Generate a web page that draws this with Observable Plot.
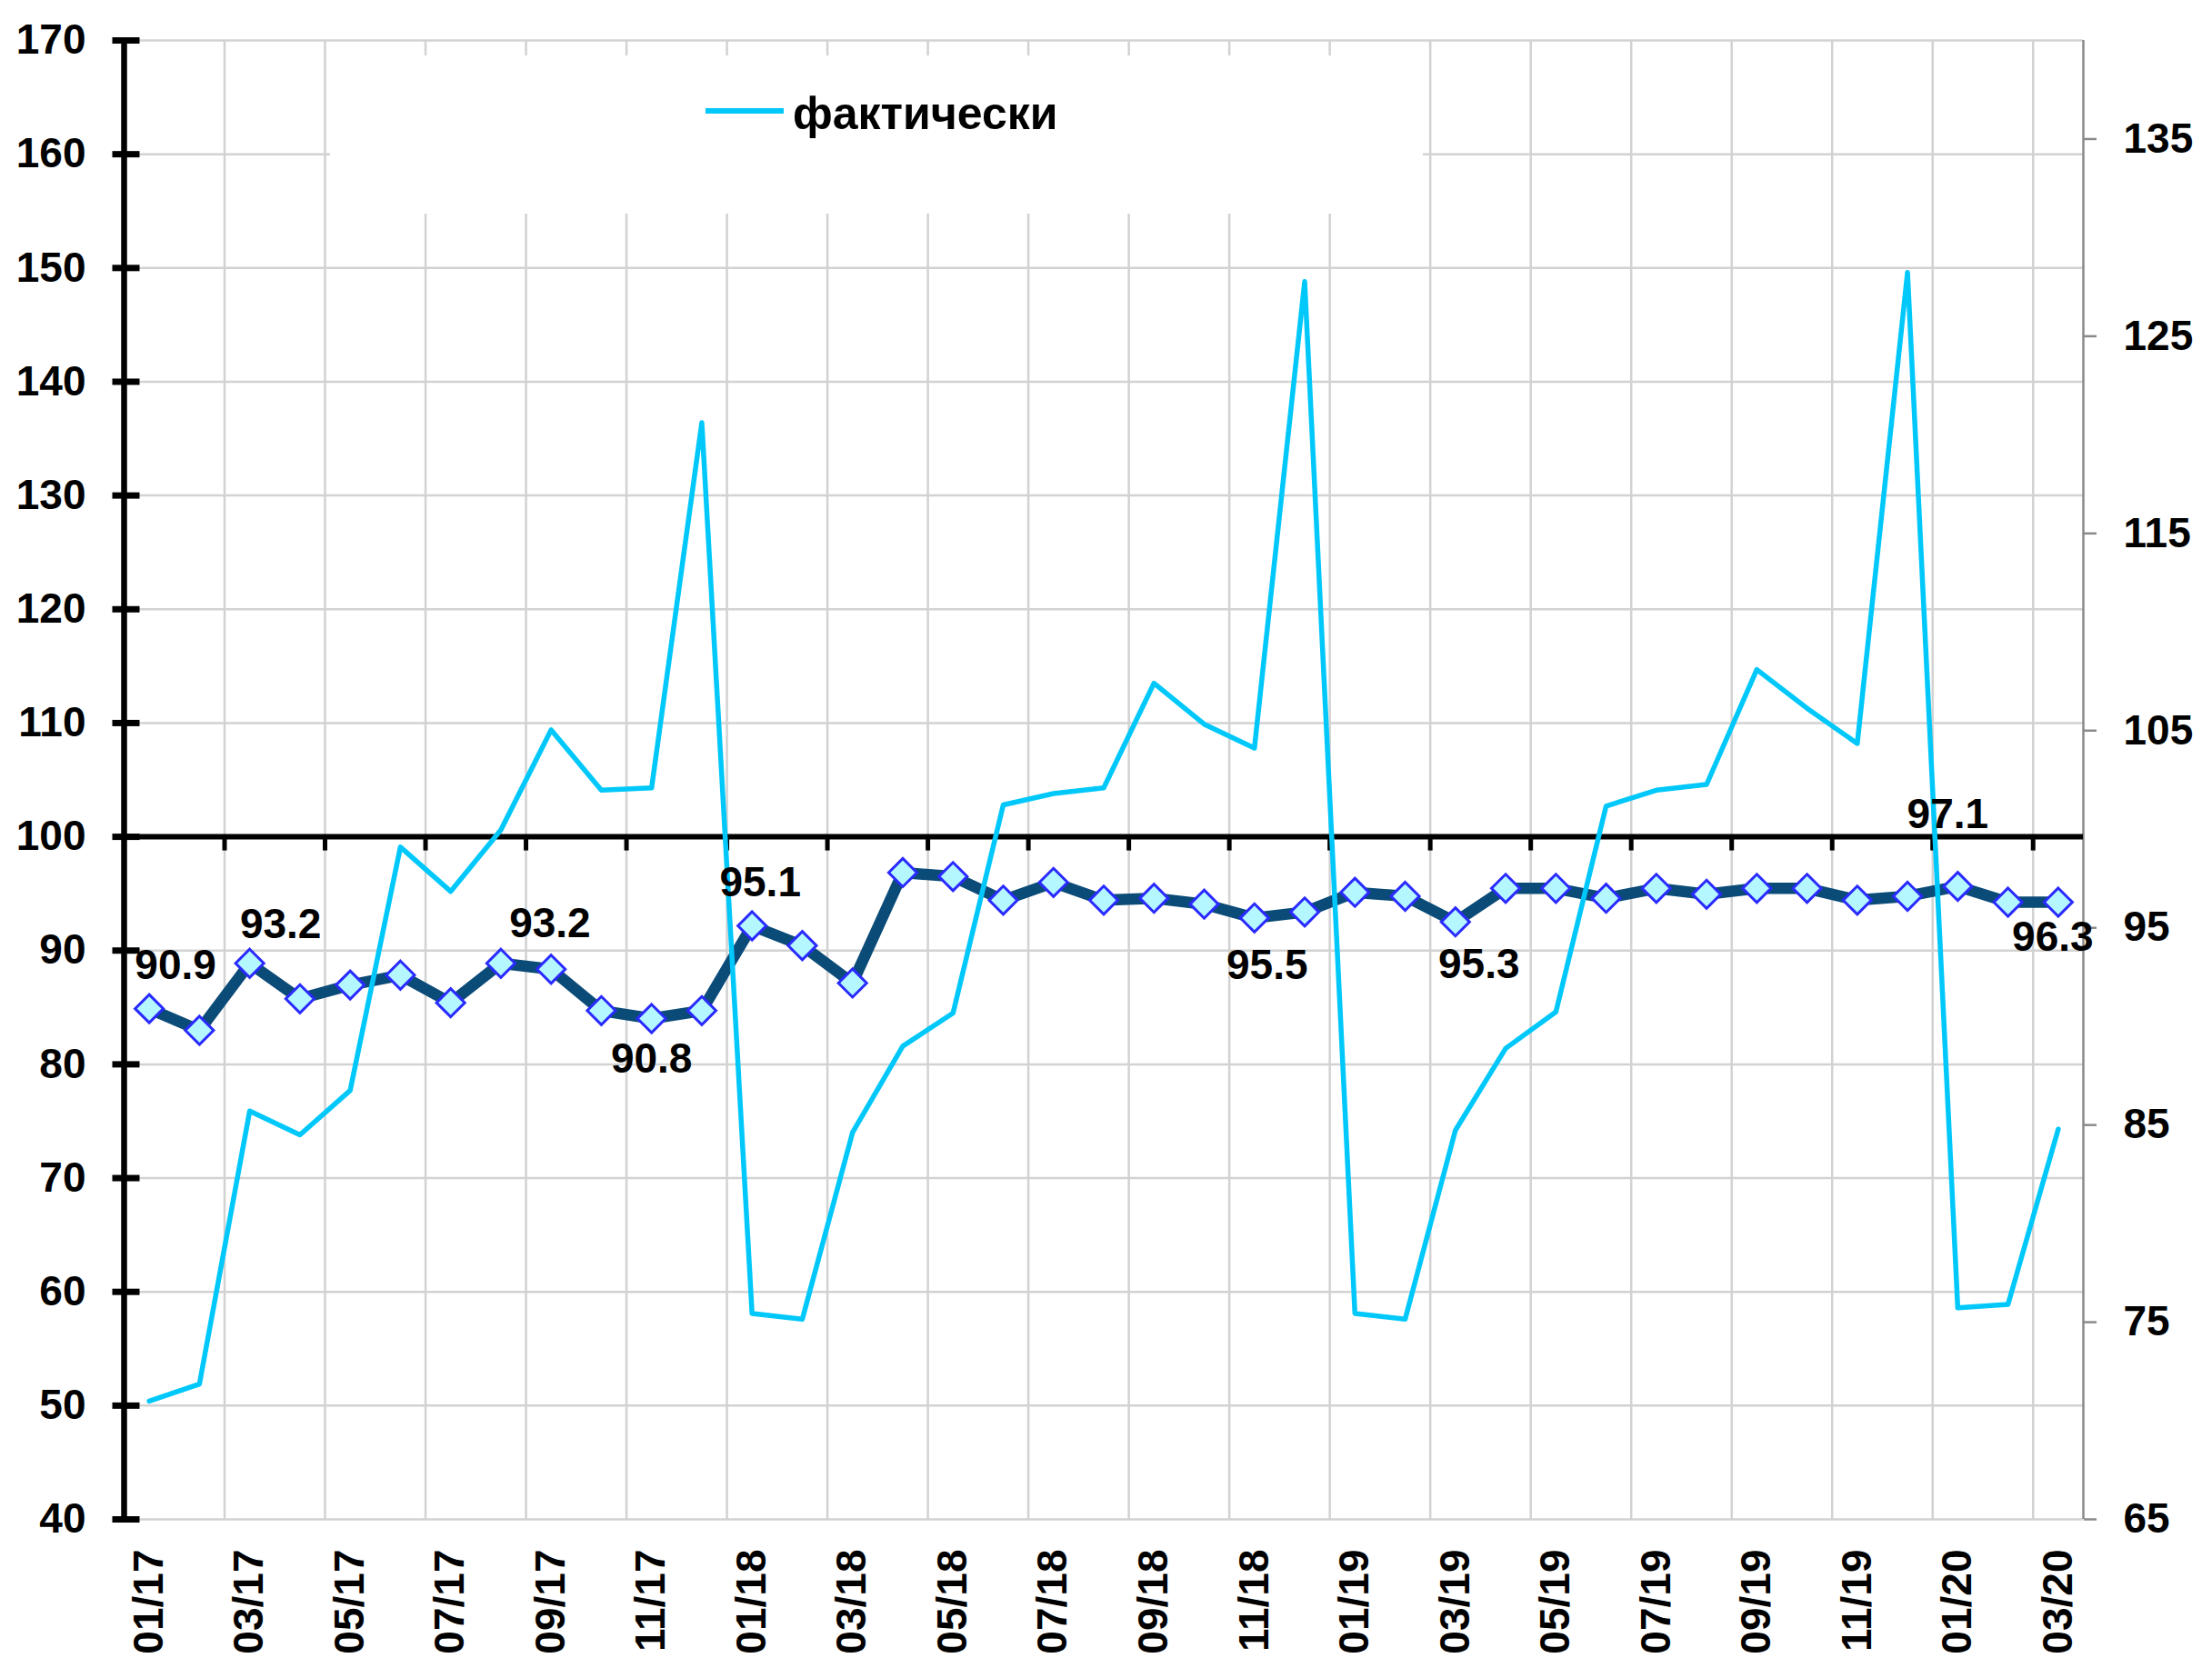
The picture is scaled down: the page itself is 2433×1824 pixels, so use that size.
<!DOCTYPE html>
<html><head><meta charset="utf-8">
<script src="https://cdn.jsdelivr.net/npm/d3@7"></script>
<script src="https://cdn.jsdelivr.net/npm/@observablehq/plot@0.6"></script>
<style>
html,body{margin:0;padding:0;background:#fff;}
#chart{width:2433px;height:1824px;overflow:hidden;}
</style></head><body><div id="chart"></div>
<script>
// ---------- data ----------
const months = ["01/17","02/17","03/17","04/17","05/17","06/17","07/17","08/17","09/17","10/17","11/17","12/17",
                "01/18","02/18","03/18","04/18","05/18","06/18","07/18","08/18","09/18","10/18","11/18","12/18",
                "01/19","02/19","03/19","04/19","05/19","06/19","07/19","08/19","09/19","10/19","11/19","12/19",
                "01/20","02/20","03/20"];
// light-blue series (left axis)
const actual = [50.4, 51.9, 75.9, 73.8, 77.7, 99.1, 95.2, 100.6, 109.4, 104.1, 104.3, 136.4,
                58.1, 57.6, 74.0, 81.6, 84.5, 102.8, 103.8, 104.3, 113.5, 109.9, 107.8, 148.8,
                58.1, 57.6, 74.2, 81.4, 84.6, 102.7, 104.1, 104.6, 114.7, 111.3, 108.2, 149.6,
                58.6, 58.9, 74.3];
// dark series with diamonds (right axis)
const adjusted = [90.9, 89.8, 93.2, 91.4, 92.1, 92.6, 91.2, 93.2, 92.9, 90.8, 90.4, 90.8,
                  95.1, 94.1, 92.2, 97.8, 97.6, 96.4, 97.3, 96.4, 96.5, 96.2, 95.5, 95.8,
                  96.8, 96.6, 95.3, 97.0, 97.0, 96.5, 97.0, 96.7, 97.0, 97.0, 96.4, 96.6,
                  97.1, 96.3, 96.3];
const leftTicks = [40, 50, 60, 70, 80, 90, 100, 110, 120, 130, 140, 150, 160, 170];
const rightTicks = [65, 75, 85, 95, 105, 115, 125, 135];
const labelMonths = ["01/17","03/17","08/17","11/17","01/18","11/18","03/19","01/20","03/20"];
const labelTexts  = ["90.9","93.2","93.2","90.8","95.1","95.5","95.3","97.1","96.3"];
const legendLabel = "фактически";
const refLevel = 100;

// ---------- scales ----------
const L0 = 40, L1 = 170, R0 = 65, R1 = 140;
const toLeft = v => L0 + (v - R0) * (L1 - L0) / (R1 - R0);
const fromLeft = v => R0 + (v - L0) * (R1 - R0) / (L1 - L0);
const xDomain = [-0.5, months.length - 0.5];

const data = months.map((m, i) => ({i, m, actual: actual[i], adj: adjusted[i]}));
const boundaries = d3.range(2, months.length, 2).map(i => i - 0.5);
const labelIdx = d3.range(0, months.length, 2);

// ---------- styles ----------
const CYAN = "#00c8fa", NAVY = "#0b4b78", GRID = "#d2d2d2";
const FONT = "'Liberation Sans', Arial, sans-serif";
const crossTick = {draw(ctx){ ctx.moveTo(-13, 0); ctx.lineTo(17, 0); }};
const downTick = {draw(ctx){ ctx.moveTo(0, 0); ctx.lineTo(0, 15); }};
const labelOffsets = [[29,-47],[34,-42],[54,-43],[0,45],[9,-47],[14,52],[26,47],[-11,-79],[-6,39]];

function legendMark() {
  const g = d3.create("svg:g");
  g.append("rect").attr("x", 363).attr("y", 61).attr("width", 1202).attr("height", 174).attr("fill", "white");
  g.append("line").attr("x1", 776).attr("x2", 862).attr("y1", 122).attr("y2", 122)
    .attr("stroke", CYAN).attr("stroke-width", 6);
  g.append("text").attr("x", 872).attr("y", 124).attr("dy", "0.35em").attr("text-anchor", "start")
    .attr("font-weight", "bold").attr("font-size", 50).attr("font-family", FONT).attr("fill", "black")
    .text(legendLabel);
  return g.node();
}

const labelMarks = labelMonths.map((m, k) => {
  const i = months.indexOf(m);
  return Plot.text([{i, y: toLeft(adjusted[i]), t: labelTexts[k]}], {
    x: "i", y: "y", text: "t", dx: labelOffsets[k][0], dy: labelOffsets[k][1],
    fontSize: 46, fontWeight: "bold", fill: "black", textAnchor: "middle", lineAnchor: "middle"
  });
});

const chart = Plot.plot({
  width: 2433, height: 1824,
  marginLeft: 136, marginRight: 142, marginTop: 44, marginBottom: 153,
  x: {type: "linear", domain: xDomain, label: null},
  y: {domain: [L0, L1], label: null},
  style: {fontFamily: FONT, background: "white", color: "black", overflow: "visible"},
  marks: [
    Plot.ruleY(leftTicks, {stroke: GRID, strokeWidth: 2.5}),
    Plot.ruleX(boundaries, {stroke: GRID, strokeWidth: 2.5}),
    legendMark,
    // right axis
    Plot.ruleX([xDomain[1]], {stroke: "#8a8a8a", strokeWidth: 2.5}),
    Plot.axisY(rightTicks.map(toLeft), {anchor: "right", tickSize: 14, tickPadding: 30,
      tickFormat: d => Math.round(fromLeft(d)), fontSize: 46, fontWeight: "bold",
      stroke: "#8a8a8a", strokeWidth: 2.5, fill: "black", label: null}),
    // reference line at 100 acting as x axis
    Plot.ruleY([refLevel], {stroke: "black", strokeWidth: 6}),
    Plot.dot(boundaries, {x: d => d, y: () => refLevel, symbol: downTick, r: 5, fill: "none",
      stroke: "black", strokeWidth: 5}),
    // left axis
    Plot.ruleX([xDomain[0]], {stroke: "black", strokeWidth: 6.5}),
    Plot.dot(leftTicks, {y: d => d, frameAnchor: "left", symbol: crossTick, r: 5, fill: "none",
      stroke: "black", strokeWidth: 7}),
    Plot.axisY(leftTicks, {anchor: "left", tickSize: 0, tickPadding: 42, fontSize: 46,
      fontWeight: "bold", fill: "black", label: null}),
    // x labels
    Plot.axisX(labelIdx, {anchor: "bottom", tickSize: 0, tickPadding: 33, tickRotate: -90,
      tickFormat: i => months[i], fontSize: 46, fontWeight: "bold", fill: "black", label: null}),
    // series
    Plot.line(data, {x: "i", y: d => toLeft(d.adj), stroke: NAVY, strokeWidth: 12.5, strokeLinejoin: "round"}),
    Plot.line(data, {x: "i", y: "actual", stroke: CYAN, strokeWidth: 5.5, strokeLinejoin: "round"}),
    Plot.dot(data, {x: "i", y: d => toLeft(d.adj), symbol: "diamond2", r: 14,
      fill: "#b4f7ff", stroke: "#2a2aff", strokeWidth: 3}),
    ...labelMarks
  ]
});
document.getElementById("chart").appendChild(chart);
</script>
</body></html>
